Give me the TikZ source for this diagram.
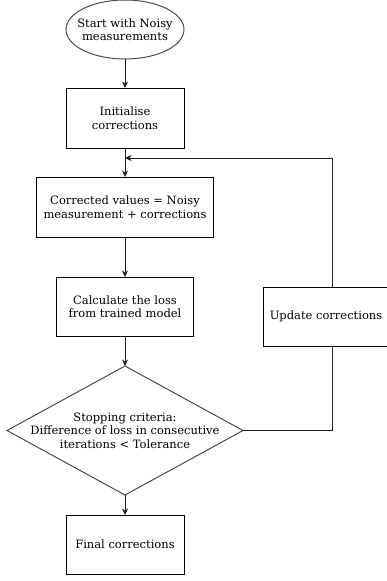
\documentclass[tikz,border=0pt]{standalone}
\usepackage{fontspec}
\setmainfont{DejaVu Serif}
\usepackage{tikz}
\usetikzlibrary{positioning,arrows.meta,calc,shapes.geometric}
\definecolor{EdgeGray}{RGB}{30,30,30}
\tikzset{
  stepbox/.style={rectangle, draw=black, fill=white, align=center,
    inner sep=2pt, outer sep=0pt, font=\fontsize{11.5}{13.5}\selectfont},
  startnode/.style={ellipse, draw=black!70, fill=white, align=center, outer sep=0pt,
    inner xsep=-8pt, inner ysep=0pt, font=\fontsize{11.5}{13.5}\selectfont},
  decide/.style={diamond, draw=black!70, fill=white, align=center, outer sep=0pt,
    inner xsep=-15pt, inner ysep=0pt, aspect=1.83, font=\fontsize{11.5}{13.5}\selectfont},
  arrow/.style={-{Stealth[length=6.5pt, width=6pt]}, draw=EdgeGray, line width=1pt}
}

\begin{document}
\begin{tikzpicture}[x=1pt, y=1pt, line width=1pt]
  \useasboundingbox (0,0) rectangle (387,-581);
  \node[startnode, minimum width=118pt, minimum height=59pt] (start) at (125,-29.5)
    {Start with Noisy\\measurements};
  \node[stepbox, minimum width=118pt, minimum height=60pt, below=29pt of start] (init)
    {Initialise\\corrections};
  \node[stepbox, minimum width=177pt, minimum height=60pt, below=29pt of init] (corr)
    {Corrected values = Noisy\\measurement + corrections};
  \node[stepbox, minimum width=137pt, minimum height=59pt, below=40pt of corr] (calc)
    {Calculate the loss\\from trained model};
  \node[decide, minimum width=236pt, minimum height=129pt, below=30pt of calc] (stop)
    {Stopping criteria:\\Difference of loss in consecutive\\iterations < Tolerance};
  \node[stepbox, minimum width=118pt, minimum height=59pt, below=20pt of stop] (final)
    {Final corrections};
  \node[stepbox, minimum width=126pt, minimum height=59pt, anchor=west] (upd) at (263,-316.5)
    {Update corrections};

  % main flow
  \draw[arrow] (start) -- (init);
  \draw[arrow] (init) -- (corr);
  \draw[arrow] (corr) -- (calc);
  \draw[arrow] (calc) -- (stop);
  \draw[arrow] (stop) -- (final);

  % loop back
  \coordinate (back) at ($(init.south)+(0,-10)$);
  \draw[draw=EdgeGray] (stop.east) -| ([xshift=6pt]upd.south);
  \draw[arrow] ([xshift=6pt]upd.north) |- (back);
\end{tikzpicture}
\end{document}
